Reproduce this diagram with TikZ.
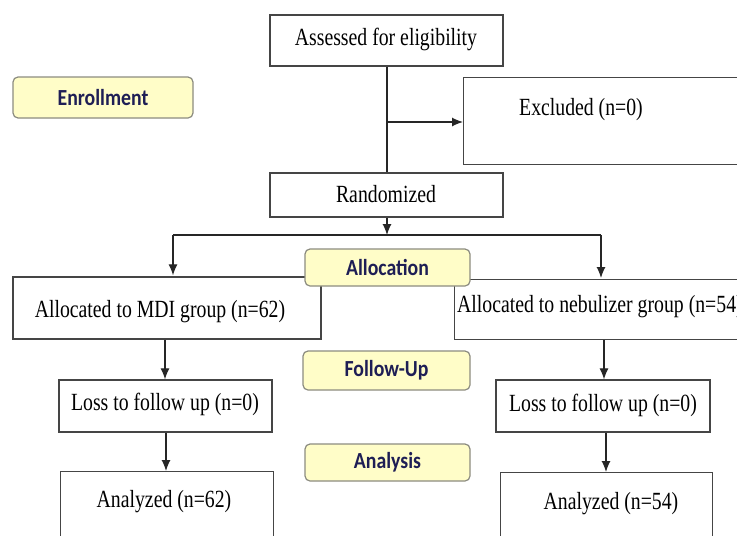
\documentclass[tikz,border=0pt]{standalone}
\usepackage{fontspec}
\setmainfont{Liberation Serif}
\newfontfamily\boxfont[FakeStretch=0.8]{Liberation Serif}
\newfontfamily\stagefont[FakeStretch=0.86]{Carlito}
\usetikzlibrary{arrows.meta}
\definecolor{stagefill}{HTML}{FFFDC8}
\definecolor{stageline}{HTML}{8C8C80}
\definecolor{stagetext}{HTML}{1E1E55}
\definecolor{boxline}{HTML}{454545}
\tikzset{
  whitebox/.style={draw=boxline, line width=1.3pt, fill=white, rectangle, inner sep=0pt},
  stagebox/.style={draw=stageline, line width=1.2pt, fill=stagefill, rounded corners=5pt,
    inner sep=0pt, font=\stagefont\bfseries\fontsize{23}{27}\selectfont, text=stagetext},
  boxtext/.style={inner sep=0pt, font=\boxfont\fontsize{24.7}{29}\selectfont, text=black},
  conn/.style={draw=black!85, line width=1.2pt},
  arr/.style={conn, -{Latex[length=11pt,width=9pt]}}
}
\begin{document}
\begin{tikzpicture}[x=1pt,y=-1pt]
\useasboundingbox (0,0) rectangle (737,536);
\fill[white] (0,0) rectangle (737,536);
\clip (0,0) rectangle (737,536);

% white boxes
\node[whitebox, minimum width=233pt, minimum height=51pt] (assess) at (386.5,40.5) {};
\node[whitebox, minimum width=290pt, minimum height=87pt, anchor=north west] (excl) at (463,77) {};
\node[whitebox, minimum width=233pt, minimum height=44pt] (rand) at (386.5,195) {};
\node[whitebox, minimum width=308pt, minimum height=62pt] (mdi) at (167,308) {};
\node[whitebox, minimum width=300pt, minimum height=60pt, anchor=north west] (neb) at (454,279) {};
\node[whitebox, minimum width=213pt, minimum height=52pt] (lossl) at (165.5,406) {};
\node[whitebox, minimum width=214pt, minimum height=52pt] (lossr) at (603,406) {};
\node[whitebox, minimum width=213pt, minimum height=100pt, anchor=north west] (anl) at (60,471) {};
\node[whitebox, minimum width=212pt, minimum height=100pt, anchor=north west] (anr) at (500,472) {};

% texts
\node[boxtext] (assesst) at (386,39) {Assessed for eligibility};
\node[boxtext] (exclt) at (581,110) {Excluded (n=0)};
\node[boxtext] (randt) at (386,194) {Randomized};
\node[boxtext] (mdit) at (160,312) {Allocated to MDI group (n=62)};
\node[boxtext, anchor=west] (nebt) at (457,307) {Allocated to nebulizer group (n=54)};
\node[boxtext] (losslt) at (165,404) {Loss to follow up (n=0)};
\node[boxtext] (lossrt) at (603,405) {Loss to follow up (n=0)};
\node[boxtext] (anlt) at (164,502) {Analyzed (n=62)};
\node[boxtext] (anrt) at (611,504) {Analyzed (n=54)};

% stage labels
\node[stagebox, minimum width=180pt, minimum height=41pt] (enroll) at (103,97.5) {Enrollment};
\node[stagebox, minimum width=165pt, minimum height=37pt] (alloc) at (387.5,267.5) {Allocation};
\node[stagebox, minimum width=167pt, minimum height=39pt] (follow) at (386.5,370.5) {Follow-Up};
\node[stagebox, minimum width=165pt, minimum height=37pt] (analysis) at (387.5,462.5) {Analysis};

% connectors
\coordinate (jx) at (387,122);
\coordinate (split) at (387,235);
\coordinate (sl) at (173,235);
\coordinate (sr) at (601,235);
\draw[conn] (assess.south -| split) -- (rand.north -| split);
\draw[arr] (jx) -- (jx -| excl.west);
\draw[arr] (rand.south -| split) -- (split);
\draw[conn] (sl) -- (sr);
\draw[arr] (sl) -- ([yshift=1pt]sl |- mdi.north);
\draw[arr] (sr) -- ([yshift=1pt]sr |- neb.north);
\coordinate (ml) at (165,0);
\coordinate (mr) at (604,0);
\draw[arr] (ml |- mdi.south) -- (ml |- lossl.north);
\draw[arr] (mr |- neb.south) -- (mr |- lossr.north);
\coordinate (al) at (166,0);
\coordinate (ar) at (606,0);
\draw[arr] (al |- lossl.south) -- (al |- anl.north);
\draw[arr] (ar |- lossr.south) -- (ar |- anr.north);
\end{tikzpicture}
\end{document}
